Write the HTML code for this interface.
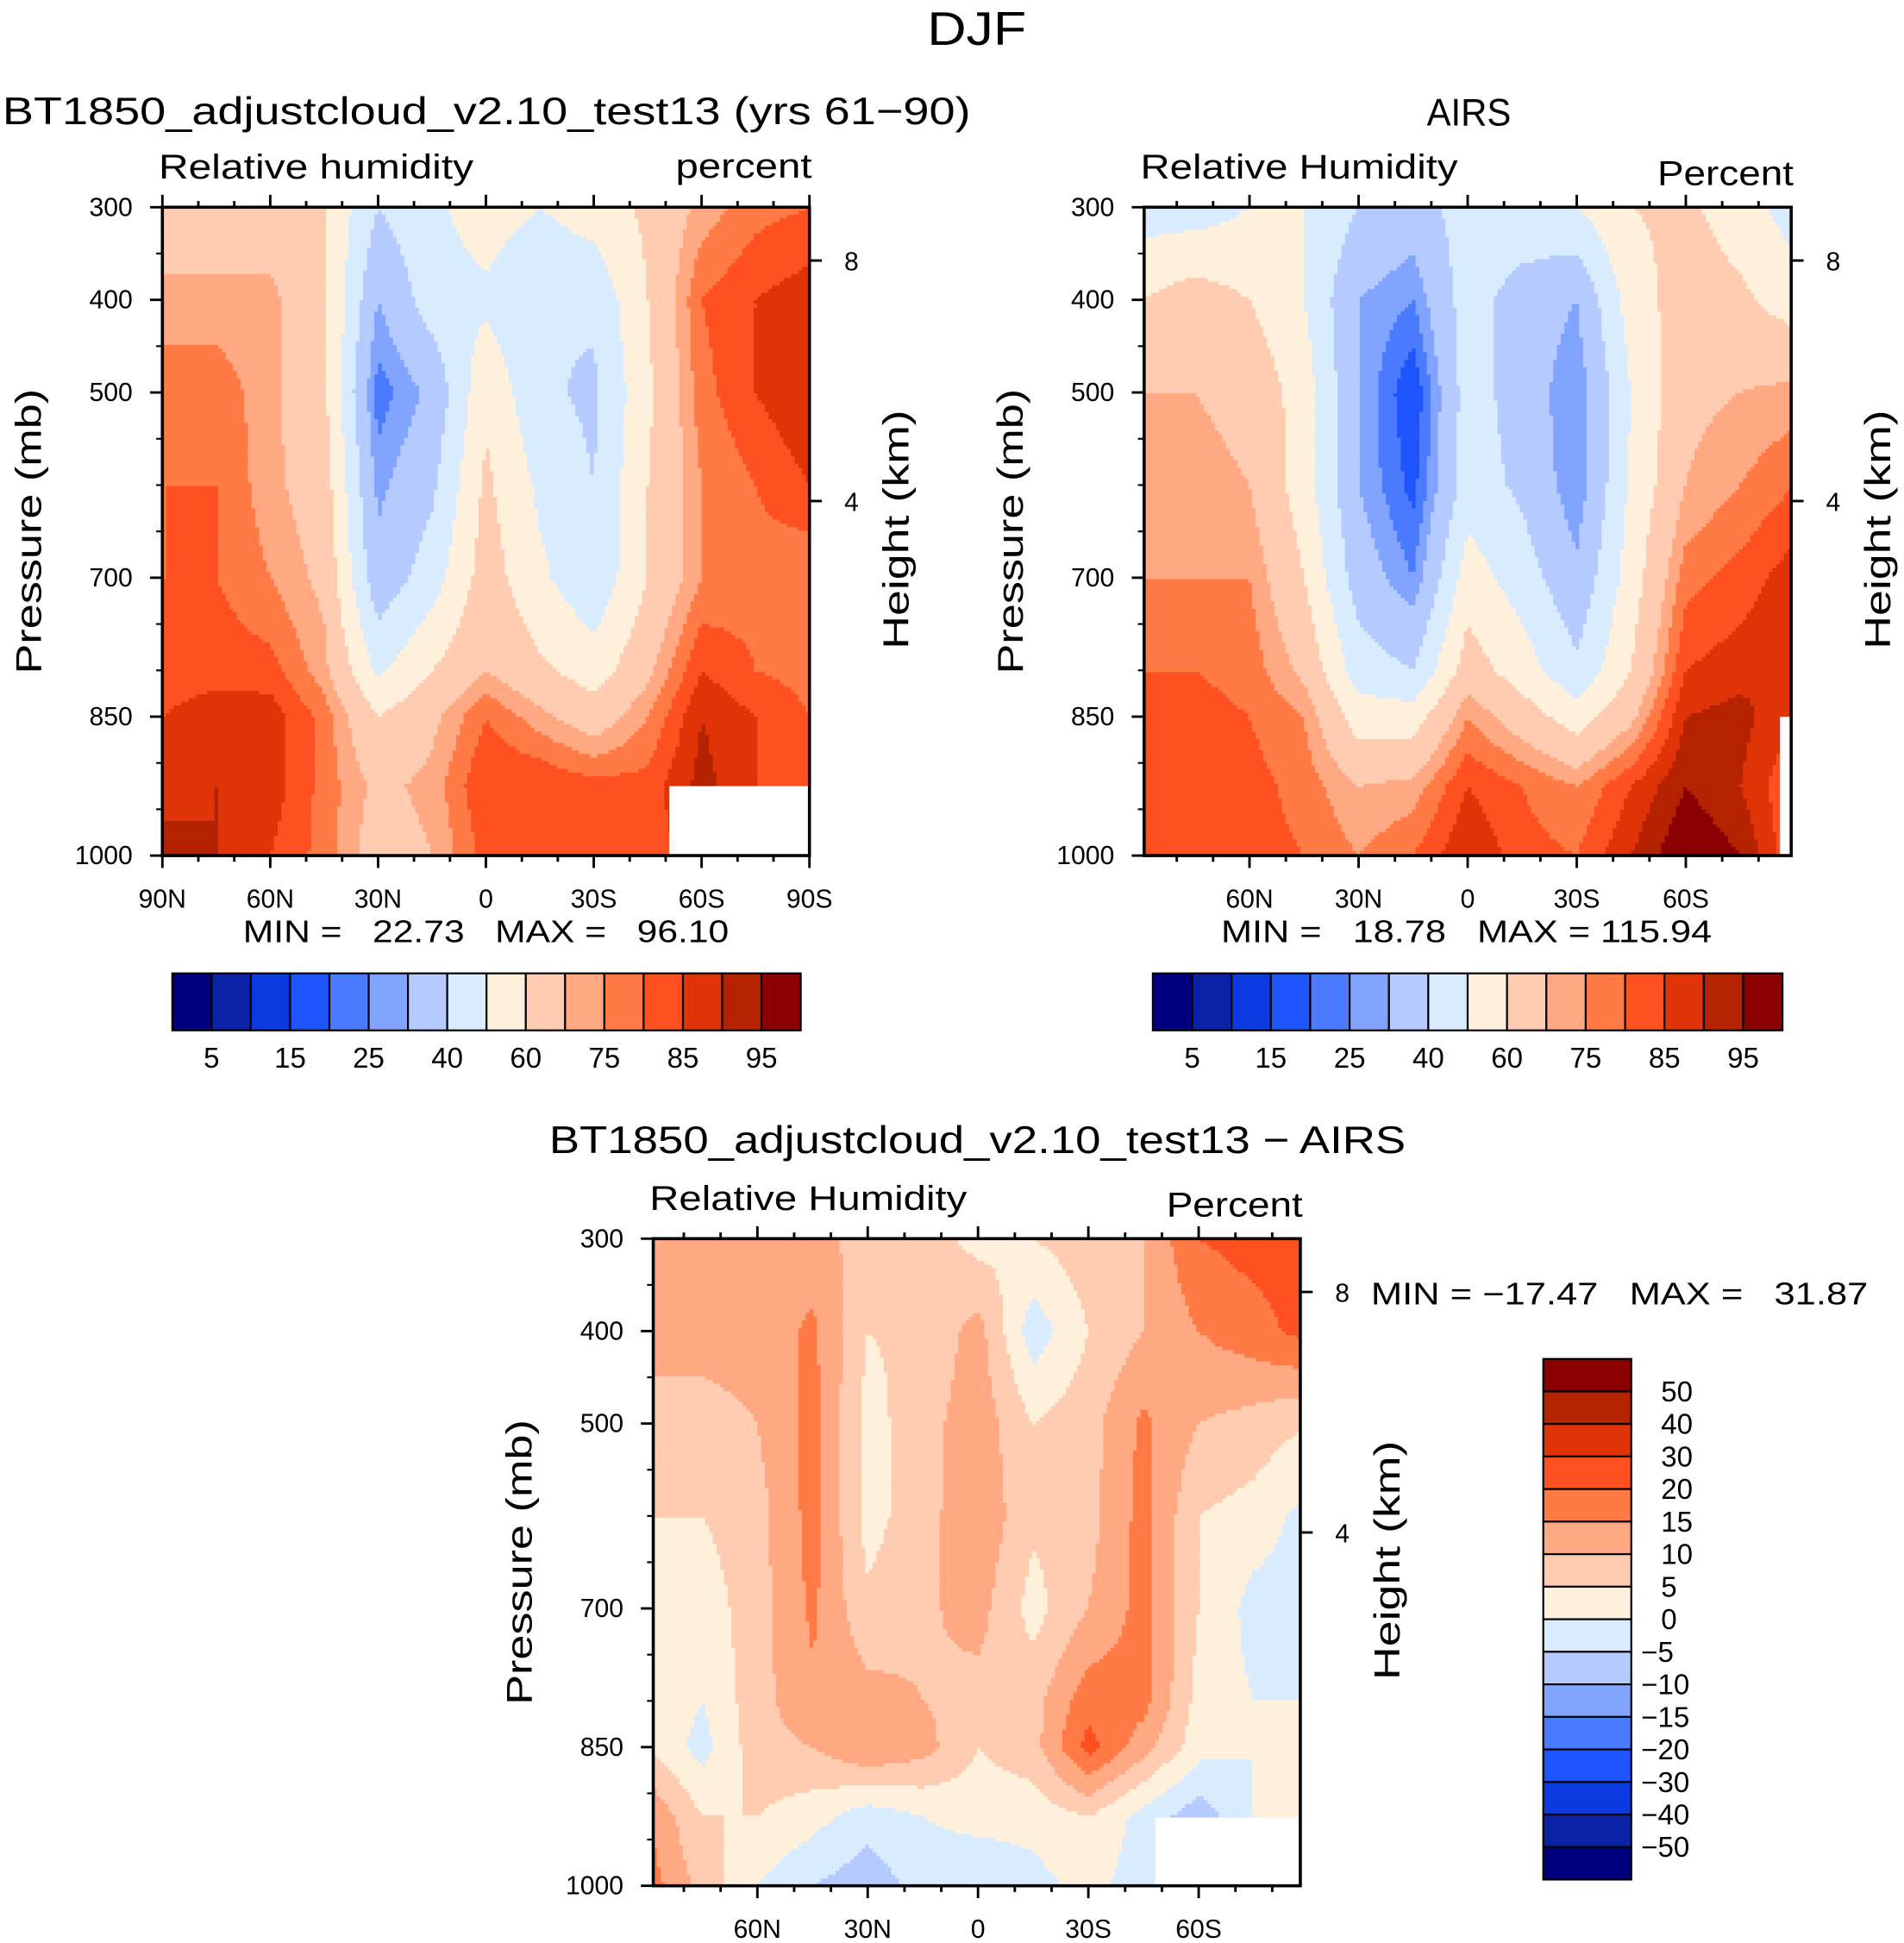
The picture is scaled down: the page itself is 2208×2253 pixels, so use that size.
<!DOCTYPE html>
<html><head><meta charset="utf-8"><style>
html,body{margin:0;padding:0;background:#fff}
svg{display:block}
text{font-family:"Liberation Sans",sans-serif;fill:#000}
</style></head><body>
<svg id="fig" width="2208" height="2253" viewBox="0 0 1536 1567" xmlns="http://www.w3.org/2000/svg">
<defs>
<clipPath id="c1"><rect x="131" y="167" width="522" height="523"/></clipPath>
<clipPath id="c2"><rect x="923" y="167" width="522" height="523"/></clipPath>
<clipPath id="c3"><rect x="527" y="999" width="522" height="522"/></clipPath>
</defs>
<text x="748" y="36" font-size="38" textLength="80" lengthAdjust="spacingAndGlyphs">DJF</text>
<text x="2" y="100" font-size="31" textLength="781" lengthAdjust="spacingAndGlyphs">BT1850_adjustcloud_v2.10_test13 (yrs 61−90)</text>
<text x="1151" y="101" font-size="31" textLength="68" lengthAdjust="spacingAndGlyphs">AIRS</text>
<text x="443" y="930" font-size="31" textLength="691" lengthAdjust="spacingAndGlyphs">BT1850_adjustcloud_v2.10_test13 − AIRS</text>
<g id="p1"></g>
<g id="p2"></g>
<g id="p3"></g>
</svg>
<script>
const lats=[90,75,60,45,30,15,0,-15,-30,-45,-60,-75,-90];
const pres=[300,400,500,600,700,800,850,925,1000];
const model=[
[65,65,65,60,40,48,55,50,55,62,72,78,80],
[72,72,72,62,30,45,48,40,42,60,80,85,88],
[78,78,72,62,22,32,58,42,38,58,78,85,90],
[80,80,72,65,28,38,62,48,40,60,75,80,85],
[80,80,75,68,33,45,65,52,42,60,75,78,75],
[82,83,82,72,48,60,70,62,55,68,85,80,78],
[85,88,88,78,60,68,80,72,65,75,90,85,80],
[88,90,88,78,68,72,85,85,82,82,92,85,80],
[92,90,85,78,65,70,82,82,80,82,88,85,80]];
const airs=[
[45,45,50,50,40,35,45,48,50,60,62,55,45],
[60,65,60,50,30,25,45,35,30,55,65,62,55],
[70,70,68,55,30,15,45,35,25,50,68,70,72],
[72,72,70,55,30,18,45,38,25,52,70,75,80],
[75,75,75,60,35,25,55,45,32,55,78,82,88],
[80,80,78,68,45,40,65,55,42,60,85,88,90],
[82,82,80,75,55,55,75,65,55,68,90,92,85],
[80,82,82,78,70,72,85,80,75,85,95,90,80],
[80,85,82,80,75,80,90,82,80,90,100,95,80]];
const diff=[
[12,12,12,12,8,8,3,5,8,10,20,22,22],
[12,12,12,16,5,6,12,-3,5,10,15,18,22],
[8,8,10,17,3,8,13,5,8,16,10,8,5],
[5,5,8,17,3,8,14,6,8,17,5,3,-2],
[3,2,8,16,6,9,12,3,10,17,5,-2,-3],
[5,0,8,14,12,10,8,8,18,17,3,0,0],
[5,-2,8,10,15,12,5,8,22,12,2,0,3],
[15,5,5,2,-3,0,2,2,5,-2,-8,0,5],
[18,8,0,-5,-8,-3,-5,-2,2,-3,-8,-2,0]];
const levelsRH=[5,10,15,20,25,30,40,50,60,70,75,80,85,90,95];
const levelsDiff=[-50,-40,-30,-20,-15,-10,-5,0,5,10,15,20,30,40,50];
const rhLabels=["5","15","25","40","60","75","85","95"];
const diffLabels=["50","40","30","20","15","10","5","0","−5","−10","−15","−20","−30","−40","−50"];
const colors=["#00007f","#0a23a6","#0a3ae0","#1f55ff","#4a7bff","#80a4ff","#b5cbff","#d9ecff","#fff0dc","#ffcbb1","#ffa882","#ff7a45","#ff5021","#e03408","#b52200","#8b0000"];
const NS="http://www.w3.org/2000/svg";
function mk(parent,tag,attrs,txt){const e=document.createElementNS(NS,tag);for(const k in attrs)e.setAttribute(k,attrs[k]);if(txt!==undefined)e.textContent=txt;parent.appendChild(e);return e;}
function interp(grid,lat,p){
  let i=0;while(i<lats.length-2&&lat<lats[i+1])i++;
  let j=0;while(j<pres.length-2&&p>pres[j+1])j++;
  const tx=Math.min(1,Math.max(0,(lats[i]-lat)/(lats[i]-lats[i+1])));
  const ty=Math.min(1,Math.max(0,(p-pres[j])/(pres[j+1]-pres[j])));
  const a=grid[j][i],b=grid[j][i+1],c=grid[j+1][i],d=grid[j+1][i+1];
  return (a*(1-tx)+b*tx)*(1-ty)+(c*(1-tx)+d*tx)*ty;
}
function cls(v,lev){let k=0;while(k<lev.length&&v>=lev[k])k++;return k;}
function panel(g,cfg){
  const X=cfg.x,Y=cfg.y,W=522,H=cfg.h;
  const lx=lat=>cfg.x0+(90-lat)/180*cfg.span;
  const py=p=>Y+(p-300)/700*H;
  const cg=mk(g,'g',{'clip-path':'url(#'+cfg.clip+')'});
  
  
  const st=3;
  for(let y=Y;y<Y+H;y+=st){
    const p=300+((y+st/2-Y)/H)*700;
    let runStart=X,runK=-1;
    for(let x=X;x<=X+W+st;x+=st){
      let k=-2;
      if(x<X+W){const lat=90-((x+st/2-cfg.x0)/cfg.span)*180;k=cls(interp(cfg.data,lat,p),cfg.lev);}
      if(k!==runK){
        if(runK>=0){const r=mk(cg,'rect',{x:runStart,y:y,width:x-runStart+0.6,height:st+0.6,fill:colors[runK]});
          
          }
        runStart=x;runK=k;}
    }
  }
  for(const m of cfg.masks){const r=mk(g,'rect',{x:m[0],y:m[1],width:m[2],height:m[3],fill:'#fff'});}
  const fr=mk(g,'rect',{x:X,y:Y,width:W,height:H,fill:'none',stroke:'#000','stroke-width':2.5});
  
  [300,400,500,700,850,1000].forEach(p=>{
    mk(g,'line',{x1:X-10,x2:X,y1:py(p),y2:py(p),stroke:'#000','stroke-width':2});
    const t=mk(g,'text',{x:X-24,y:py(p)+7,'font-size':21,'text-anchor':'end'},p);
    
  });
  for(let p=350;p<1000;p+=50){if([400,500,700,850].includes(p))continue;mk(g,'line',{x1:X-5,x2:X,y1:py(p),y2:py(p),stroke:'#000','stroke-width':1.5});}
  for(let lat=90;lat>=-90;lat-=10){const x=lx(lat);if(x<X-1||x>X+W+1)continue;const maj=lat%30===0;
    mk(g,'line',{x1:x,x2:x,y1:Y+H,y2:Y+H+(maj?10:5),stroke:'#000','stroke-width':2});
    mk(g,'line',{x1:x,x2:x,y1:Y,y2:Y-(maj?10:5),stroke:'#000','stroke-width':2});}
  cfg.xl.forEach(lat=>{const lab=lat===0?'0':Math.abs(lat)+(lat>0?'N':'S');
    const t=mk(g,'text',{x:lx(lat),y:Y+H+42,'font-size':21,'text-anchor':'middle'},lab);
    });
  [[8,cfg.h8],[4,cfg.h4]].forEach(h=>{mk(g,'line',{x1:X+W,x2:X+W+10,y1:h[1],y2:h[1],stroke:'#000','stroke-width':2});
    const t=mk(g,'text',{x:X+W+28,y:h[1]+8,'font-size':21},h[0]);});
  let t=mk(g,'text',{x:-115,y:0,'font-size':29,textLength:230,lengthAdjust:'spacingAndGlyphs',transform:`translate(${X-98},${Y+H/2}) rotate(-90)`},'Pressure (mb)');
  
  t=mk(g,'text',{x:-96,y:0,'font-size':29,textLength:193,lengthAdjust:'spacingAndGlyphs',transform:`translate(${X+W+80},${Y+H/2-1}) rotate(-90)`},'Height (km)');
  
  t=mk(g,'text',{x:X-3,y:Y-23,'font-size':28,textLength:cfg.lw,lengthAdjust:'spacingAndGlyphs'},cfg.left);
  t=mk(g,'text',{x:X+W+2-110,y:Y-cfg.uy,'font-size':28,textLength:110,lengthAdjust:'spacingAndGlyphs'},cfg.units);
  t=mk(g,'text',{x:cfg.mx,y:cfg.my,'font-size':25,style:'white-space:pre',textLength:cfg.mw,lengthAdjust:'spacingAndGlyphs'},cfg.minmax);
}
function hbar(g,x,y,w,h,labels){
  const bw=w/16;
  for(let i=0;i<16;i++){const r=mk(g,'rect',{x:x+i*bw,y:y,width:bw,height:h,fill:colors[i],stroke:'#000','stroke-width':1.5});
    }
  labels.forEach((l,i)=>{const t=mk(g,'text',{x:x+(2*i+1)*bw,y:y+h+30,'font-size':23,'text-anchor':'middle'},l);
    });
}
function vbar(g,x,y,w,h,labels){
  const bh=h/16;
  for(let i=0;i<16;i++){const r=mk(g,'rect',{x:x,y:y+i*bh,width:w,height:bh,fill:colors[15-i],stroke:'#000','stroke-width':1.5});
    }
  labels.forEach((l,i)=>{const t=mk(g,'text',{x:x+w+8+(l.startsWith('−')?0:16),y:y+(i+1)*bh+8,'font-size':23},l);
    });
}
const g1=document.getElementById('p1'),g2=document.getElementById('p2'),g3=document.getElementById('p3');
panel(g1,{x:131,y:167,h:523,x0:131,span:522,clip:'c1',data:model,lev:levelsRH,masks:[[540,634,113,56]],xl:[90,60,30,0,-30,-60,-90],h8:210,h4:404,left:'Relative humidity',lw:254,units:'percent',uy:24,mx:196,my:760,mw:392,minmax:'MIN =   22.73   MAX =   96.10'});
panel(g2,{x:923,y:167,h:523,x0:920,span:528,clip:'c2',data:airs,lev:levelsRH,masks:[[1436,578,9,112]],xl:[60,30,0,-30,-60],h8:210,h4:404,left:'Relative Humidity',lw:256,units:'Percent',uy:18,mx:985,my:760,mw:396,minmax:'MIN =   18.78   MAX = 115.94'});
panel(g3,{x:527,y:999,h:522,x0:522,span:534,clip:'c3',data:diff,lev:levelsDiff,masks:[[932,1466,117,55]],xl:[60,30,0,-30,-60],h8:1042,h4:1236,left:'Relative Humidity',lw:256,units:'Percent',uy:18,mx:1106,my:1052,mw:401,minmax:'MIN = −17.47   MAX =   31.87'});
hbar(g1,139,785,507,46,rhLabels);
hbar(g2,930,785,508,46,rhLabels);
vbar(g3,1245,1096,71,420,diffLabels);
</script>
</body></html>
